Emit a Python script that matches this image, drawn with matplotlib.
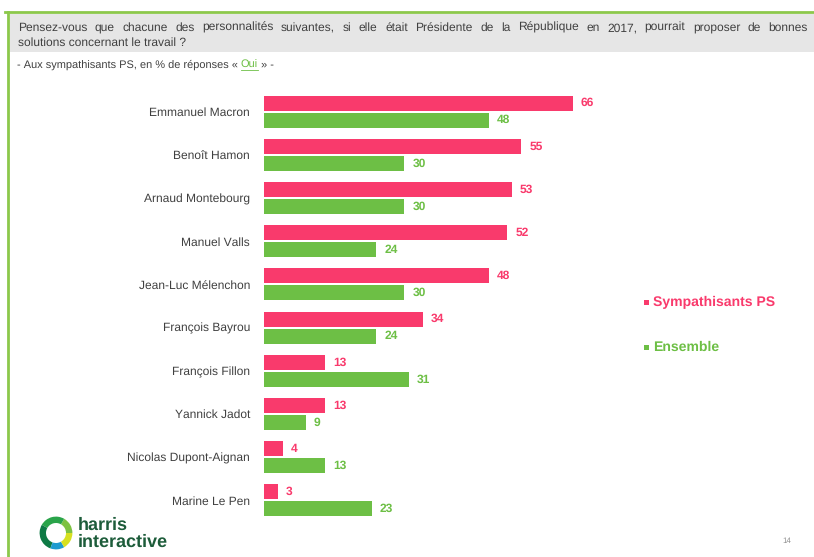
import matplotlib
matplotlib.use("Agg")
import matplotlib.pyplot as plt
from matplotlib.patches import Rectangle, Wedge
from matplotlib.lines import Line2D

plt.rcParams['font.family'] = ['Liberation Sans', 'DejaVu Sans']
plt.rcParams['text.hinting'] = 'no_hinting'
plt.rcParams['text.hinting_factor'] = 1

categories = ["Emmanuel Macron", "Benoît Hamon", "Arnaud Montebourg", "Manuel Valls",
              "Jean-Luc Mélenchon", "François Bayrou", "François Fillon", "Yannick Jadot",
              "Nicolas Dupont-Aignan", "Marine Le Pen"]
sympathisants_ps = [66, 55, 53, 52, 48, 34, 13, 13, 4, 3]
ensemble = [48, 30, 30, 24, 30, 24, 31, 9, 13, 23]
series_names = ["Sympathisants PS", "Ensemble"]

PINK = "#F93A6C"
GREEN = "#6DBF45"
BORDER = "#8CC84B"
TXT = "#404040"

W, H = 814, 557
fig = plt.figure(figsize=(W / 100, H / 100), dpi=100)

def fx(px):
    return px / W

def fy(py):
    return 1 - py / H

renderer = fig.canvas.get_renderer()

# frame lines
fig.add_artist(Line2D([fx(5), fx(814)], [fy(12), fy(12)], color=BORDER, lw=2))
fig.add_artist(Line2D([fx(8), fx(8)], [fy(12), fy(557)], color=BORDER, lw=2))
# header band
fig.add_artist(Rectangle((fx(10), fy(52)), fx(804), 38 / H, color="#E6E6E6", lw=0))

# justified first header line
line1 = ("Pensez-vous que chacune des personnalités suivantes, si elle était Présidente "
         "de la République en 2017, pourrait proposer de bonnes").split(" ")
hdr_fs = 8.4
widths = []
for wd in line1:
    t = fig.text(0, 0, wd, fontsize=hdr_fs)
    widths.append(t.get_window_extent(renderer).width)
    t.remove()
total = sum(widths)
span = 808 - 18
gap = (span - total) / (len(line1) - 1)
xp = 18.0
for wd, wpx in zip(line1, widths):
    fig.text(fx(xp), fy(31), wd, fontsize=hdr_fs, color=TXT, va="baseline", ha="left")
    xp += wpx + gap
fig.text(fx(18), fy(46), "solutions concernant le travail ?",
         fontsize=hdr_fs, color=TXT, va="baseline", ha="left")

# subtitle with colored "Oui"
x0 = fx(17)
parts = [("- Aux sympathisants PS, en % de réponses « ", TXT, False),
         ("Oui", GREEN, True),
         (" » -", TXT, False)]
for s, c, ul in parts:
    t = fig.text(x0, fy(68), s, fontsize=7.8, color=c, va="baseline", ha="left")
    bb = t.get_window_extent(renderer)
    w = bb.width / W
    if ul:
        fig.add_artist(Line2D([x0, x0 + w], [fy(70), fy(70)], color=c, lw=0.6))
    x0 += w

# bars
ax = fig.add_axes([fx(264), fy(522), 468 / W, 432 / H])
ypos = list(range(len(categories)))
off = 0.197
h = 0.35
ax.barh([y - off for y in ypos], sympathisants_ps, height=h, color=PINK)
ax.barh([y + off for y in ypos], ensemble, height=h, color=GREEN)
ax.set_xlim(0, 100)
ax.set_ylim(9.5, -0.5)
for s in ax.spines.values():
    s.set_visible(False)
ax.set_xticks([])
ax.set_yticks(ypos)
ax.set_yticklabels(categories, fontsize=8.6, color=TXT)
ax.tick_params(axis="y", length=0, pad=10)
for y, v in zip(ypos, sympathisants_ps):
    ax.text(v + 1.7, y - off, str(v), color=PINK, fontsize=8.6, fontweight="bold",
            va="center", ha="left")
for y, v in zip(ypos, ensemble):
    ax.text(v + 1.7, y + off, str(v), color=GREEN, fontsize=8.6, fontweight="bold",
            va="center", ha="left")

# legend
for (name, col, py) in [(series_names[0], PINK, 302), (series_names[1], GREEN, 347)]:
    fig.add_artist(Rectangle((fx(644), fy(py) - 2.5 / H), 5 / W, 5 / H, color=col, lw=0))
    fig.text(fx(653), fy(py), name, color=col, fontsize=10.2, fontweight="bold",
             va="center", ha="left")

# logo
lax = fig.add_axes([fx(36), fy(553), 40 / W, 40 / H])
lax.set_xlim(-1, 1)
lax.set_ylim(-1, 1)
lax.set_aspect("equal")
lax.axis("off")
ring = [(0, 60, "#7DC242"), (60, 150, "#2AA44A"), (150, 250, "#0E7A45"),
        (250, 300, "#1E9BD0"), (300, 360, "#D6E020")]
for a1, a2, c in ring:
    lax.add_patch(Wedge((0, 0), 0.82, a1, a2, width=0.32, color=c, lw=0))
fig.text(fx(78), fy(525), "harris", fontsize=13, fontweight="bold", color="#1D5C3A",
         va="center", ha="left")
fig.text(fx(78), fy(542), "interactive", fontsize=13, fontweight="bold", color="#1D5C3A",
         va="center", ha="left")

fig.text(fx(787), fy(541), "14", fontsize=5.5, color="#909090", va="center", ha="center")

fig.savefig("out.png", dpi=100)
